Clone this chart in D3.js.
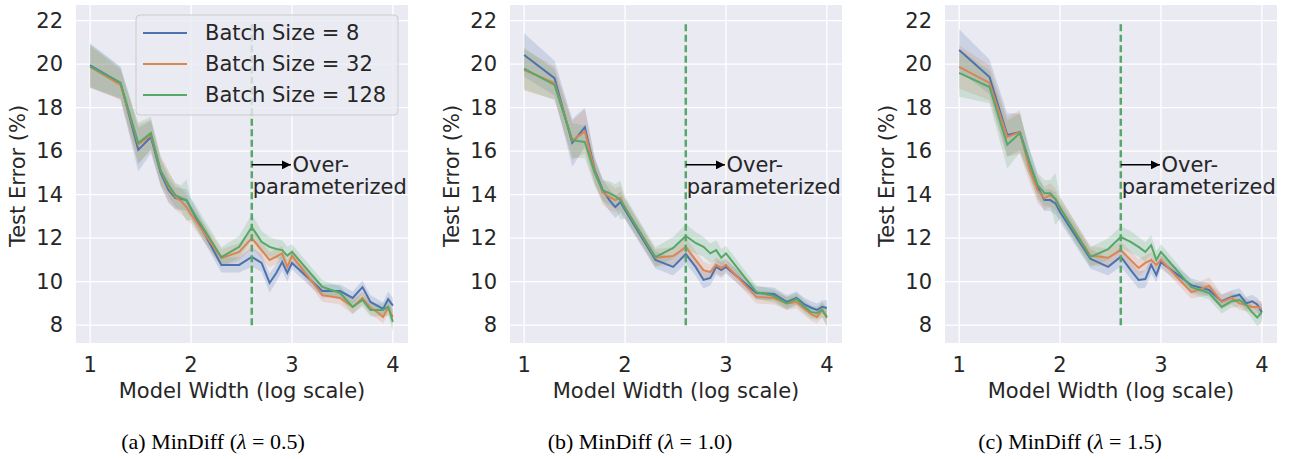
<!DOCTYPE html>
<html><head><meta charset="utf-8">
<script src="https://cdn.jsdelivr.net/npm/d3@7"></script>
<style>
body{margin:0;background:#fff;}
svg{display:block;}
</style></head>
<body><svg id="c" width="1289" height="459"></svg>
<script>
// log10(model width)
const xVals = [1,1.301,1.477,1.602,1.699,1.778,1.845,1.903,1.954,2.0,2.301,2.477,2.602,2.699,2.778,2.845,2.903,2.954,3.0,3.301,3.477,3.602,3.699,3.778,3.845,3.903,3.954,4.0];
const xTicks = [1,2,3,4];
const yTicks = [8,10,12,14,16,18,20,22];
const seriesNames = ["Batch Size = 8","Batch Size = 32","Batch Size = 128"];
const captionLetters = ["(a)","(b)","(c)"];
const lambdas = ["0.5","1.0","1.5"];
const overParamX = 2.602;

// Panel (a) lambda = 0.5
const a_bs8   = [19.95,19.14,16.06,16.65,15.0,14.2,13.84,13.8,13.75,13.35,10.77,10.77,11.14,10.86,9.94,10.4,10.9,10.4,10.86,9.57,9.57,9.25,9.75,9.07,8.9,8.75,9.2,8.9];
const a_bs32  = [19.87,19.05,16.3,16.75,15.1,14.35,13.9,13.7,13.43,13.1,11.09,11.37,12.0,11.45,11.0,11.15,11.3,10.67,11.2,9.38,9.25,8.84,9.25,8.8,8.6,8.38,8.8,8.38];
const a_bs128 = [19.9,19.14,16.37,16.83,15.1,14.44,13.98,13.85,13.75,13.35,11.13,11.6,12.51,11.83,11.6,11.5,11.45,11.2,11.37,9.76,9.48,8.84,9.16,8.7,8.7,8.7,8.85,8.15];
const a_ci8   = [1.0,0.75,1.0,0.75,0.6,0.55,0.5,0.5,0.5,0.45,0.35,0.35,0.45,0.4,0.45,0.4,0.4,0.4,0.3,0.3,0.3,0.3,0.3,0.3,0.3,0.3,0.35,0.35];
const a_ci32  = [0.95,0.7,0.9,0.7,0.7,0.75,0.6,0.6,0.55,0.45,0.4,0.4,0.45,0.4,0.35,0.35,0.35,0.35,0.3,0.3,0.3,0.35,0.3,0.3,0.3,0.3,0.3,0.35];
const a_ci128 = [1.0,0.7,0.95,0.75,0.6,0.55,0.55,0.6,0.95,0.5,0.45,0.5,0.6,0.5,0.45,0.45,0.45,0.4,0.35,0.3,0.3,0.3,0.3,0.3,0.3,0.3,0.4,0.45];

// Panel (b) lambda = 1.0
const b_bs8   = [20.42,19.36,16.38,17.1,15.14,14.22,13.75,13.43,13.66,13.3,11.0,10.68,11.27,10.68,10.08,10.17,10.68,10.53,10.68,9.48,9.43,9.07,9.25,8.95,8.8,8.7,8.84,8.79];
const b_bs32  = [19.73,19.14,16.5,16.9,15.1,14.1,13.9,13.75,13.85,13.4,11.1,11.18,11.59,11.0,10.53,10.44,10.77,10.63,10.77,9.3,9.25,9.0,9.07,8.75,8.5,8.38,8.7,8.33];
const b_bs128 = [19.8,19.05,16.5,16.42,15.0,14.2,14.07,13.93,13.75,13.4,11.13,11.55,12.1,11.78,11.6,11.3,11.45,11.1,11.3,9.52,9.34,9.0,9.2,8.84,8.6,8.56,8.7,8.38];
const b_ci8   = [1.0,0.8,1.1,0.9,0.6,0.5,0.5,0.5,0.5,0.45,0.4,0.4,0.45,0.4,0.4,0.35,0.35,0.35,0.3,0.3,0.3,0.3,0.3,0.3,0.3,0.3,0.3,0.35];
const b_ci32  = [0.95,0.75,0.9,1.0,0.6,0.55,0.6,0.55,0.55,0.45,0.4,0.4,0.45,0.4,0.4,0.35,0.35,0.35,0.3,0.3,0.3,0.3,0.3,0.3,0.3,0.3,0.35,0.35];
const b_ci128 = [0.95,0.7,0.8,0.75,0.6,0.5,0.55,0.55,0.9,0.5,0.45,0.5,0.55,0.5,0.45,0.45,0.45,0.4,0.35,0.3,0.3,0.3,0.3,0.3,0.3,0.3,0.35,0.45];

// Panel (c) lambda = 1.5
const c_bs8   = [20.65,19.41,16.74,16.88,15.45,14.35,13.75,13.75,13.6,13.2,11.05,10.68,11.15,10.54,10.08,10.12,10.77,10.31,10.9,9.84,9.62,9.1,9.3,9.4,9.0,9.1,8.95,8.6];
const c_bs32  = [19.87,19.14,16.65,16.88,15.14,14.2,13.84,13.98,13.8,13.4,11.2,11.1,11.45,11.0,10.63,10.86,11.0,10.77,11.0,9.52,9.8,9.07,9.25,9.0,8.93,8.84,8.84,8.75];
const c_bs128 = [19.6,18.95,16.3,16.83,15.45,14.44,14.07,14.07,13.8,13.4,11.13,11.5,12.05,11.83,11.6,11.37,11.68,11.0,11.37,9.75,9.48,8.84,9.1,9.16,8.93,8.6,8.35,8.6];
const c_ci8   = [0.95,0.8,1.0,0.85,0.6,0.55,0.5,0.5,0.5,0.45,0.45,0.4,0.45,0.4,0.4,0.4,0.4,0.35,0.3,0.3,0.3,0.3,0.3,0.3,0.3,0.3,0.3,0.35];
const c_ci32  = [1.0,0.8,0.9,1.0,0.6,0.6,0.55,0.55,0.5,0.45,0.45,0.4,0.4,0.4,0.4,0.35,0.35,0.35,0.3,0.3,0.4,0.35,0.3,0.3,0.3,0.3,0.3,0.35];
const c_ci128 = [1.1,0.75,1.1,0.9,0.65,0.55,0.6,0.6,1.2,0.5,0.45,0.5,0.5,0.5,0.45,0.45,0.45,0.4,0.35,0.3,0.3,0.3,0.3,0.3,0.3,0.3,0.4,0.45];

const colors = ["#4c72b0","#dd8452","#55a868"];

const panels = [
  {left:76,  means:[a_bs8,a_bs32,a_bs128], cis:[a_ci8,a_ci32,a_ci128], legend:true},
  {left:510, means:[b_bs8,b_bs32,b_bs128], cis:[b_ci8,b_ci32,b_ci128], legend:false},
  {left:945, means:[c_bs8,c_bs32,c_bs128], cis:[c_ci8,c_ci32,c_ci128], legend:false}
];

const W = 332, pTop = 5, pBottom = 343;
const txt = "#262626";
const font = "DejaVu Sans, sans-serif";
const fs = 21;
const svg = d3.select("#c");

const defs = svg.append("defs");
defs.append("marker").attr("id","ah").attr("viewBox","0 0 10 10").attr("refX",10).attr("refY",5)
  .attr("markerWidth",9).attr("markerHeight",9).attr("markerUnits","userSpaceOnUse").attr("orient","auto")
  .append("path").attr("d","M0,0 L10,5 L0,10 z").attr("fill","#000");

panels.forEach((p,pi)=>{
  const x = d3.scaleLinear().domain([0.86,4.15]).range([p.left,p.left+W]);
  const y = d3.scaleLinear().domain([7.18,22.72]).range([pBottom,pTop]);
  const g = svg.append("g");
  defs.append("clipPath").attr("id","clip"+pi).append("rect")
    .attr("x",p.left).attr("y",pTop).attr("width",W).attr("height",pBottom-pTop);

  g.append("rect").attr("x",p.left).attr("y",pTop).attr("width",W).attr("height",pBottom-pTop).attr("fill","#eaeaf2");

  g.selectAll(".gx").data(xTicks).join("line")
    .attr("x1",d=>x(d)).attr("x2",d=>x(d)).attr("y1",pTop).attr("y2",pBottom)
    .attr("stroke","#fff").attr("stroke-width",1.3);
  g.selectAll(".gy").data(yTicks).join("line")
    .attr("y1",d=>y(d)).attr("y2",d=>y(d)).attr("x1",p.left).attr("x2",p.left+W)
    .attr("stroke","#fff").attr("stroke-width",1.3);

  g.selectAll(".tx").data(xTicks).join("text")
    .attr("x",d=>x(d)).attr("y",365).attr("text-anchor","middle").attr("dominant-baseline","central")
    .attr("font-family",font).attr("font-size",fs).attr("fill",txt).text(d=>d);
  g.selectAll(".ty").data(yTicks).join("text")
    .attr("x",p.left-13).attr("y",d=>y(d)).attr("text-anchor","end").attr("dominant-baseline","central")
    .attr("font-family",font).attr("font-size",fs).attr("fill",txt).text(d=>d);

  g.append("text").attr("x",p.left+W/2).attr("y",391).attr("text-anchor","middle").attr("dominant-baseline","central")
    .attr("font-family",font).attr("font-size",fs).attr("fill",txt).text("Model Width (log scale)");
  g.append("text").attr("transform",`translate(${p.left-58},176) rotate(-90)`).attr("text-anchor","middle").attr("dominant-baseline","central")
    .attr("font-family",font).attr("font-size",fs).attr("fill",txt).text("Test Error (%)");

  const pg = g.append("g").attr("clip-path",`url(#clip${pi})`);
  p.means.forEach((m,si)=>{
    const ci = p.cis[si];
    const area = d3.area().x((d,i)=>x(xVals[i])).y0((d,i)=>y(m[i]-ci[i])).y1((d,i)=>y(m[i]+ci[i]));
    pg.append("path").attr("d",area(m)).attr("fill",colors[si]).attr("fill-opacity",0.2).attr("stroke","none");
  });
  p.means.forEach((m,si)=>{
    const line = d3.line().x((d,i)=>x(xVals[i])).y(d=>y(d));
    pg.append("path").attr("d",line(m)).attr("fill","none").attr("stroke",colors[si]).attr("stroke-width",2);
  });

  pg.append("line").attr("x1",x(overParamX)).attr("x2",x(overParamX)).attr("y1",y(8)).attr("y2",y(22))
    .attr("stroke","#55a868").attr("stroke-width",2.5).attr("stroke-dasharray","7,3.5");
  g.append("line").attr("x1",x(overParamX)).attr("x2",x(2.99)).attr("y1",y(15.37)).attr("y2",y(15.37))
    .attr("stroke","#000").attr("stroke-width",1.5).attr("marker-end","url(#ah)");
  g.append("text").attr("x",x(3.005)).attr("y",y(15.37)).attr("dominant-baseline","central")
    .attr("font-family",font).attr("font-size",fs).attr("fill",txt).text("Over-");
  g.append("text").attr("x",x(overParamX)+1).attr("y",y(14.35)).attr("dominant-baseline","central")
    .attr("font-family",font).attr("font-size",fs).attr("fill",txt).text("parameterized");

  if(p.legend){
    const lg = g.append("g");
    lg.append("rect").attr("x",136).attr("y",15).attr("width",262).attr("height",100).attr("rx",4)
      .attr("fill","#eaeaf2").attr("fill-opacity",0.8).attr("stroke","#cccccc").attr("stroke-width",1);
    seriesNames.forEach((s,si)=>{
      const yy = 33 + si*31;
      lg.append("line").attr("x1",143).attr("x2",187).attr("y1",yy).attr("y2",yy).attr("stroke",colors[si]).attr("stroke-width",2);
      lg.append("text").attr("x",205).attr("y",yy).attr("dominant-baseline","central")
        .attr("font-family",font).attr("font-size",fs).attr("fill",txt).text(s);
    });
  }

  const cap = svg.append("text").attr("x",[213,640,1070][pi]).attr("y",441).attr("text-anchor","middle").attr("dominant-baseline","central")
    .attr("font-family","Liberation Serif, Times New Roman, serif").attr("font-size",22).attr("fill","#000");
  cap.append("tspan").text(captionLetters[pi] + " MinDiff (");
  cap.append("tspan").attr("font-style","italic").text("\u03BB");
  cap.append("tspan").text(" = " + lambdas[pi] + ")");
});
</script></body></html>
